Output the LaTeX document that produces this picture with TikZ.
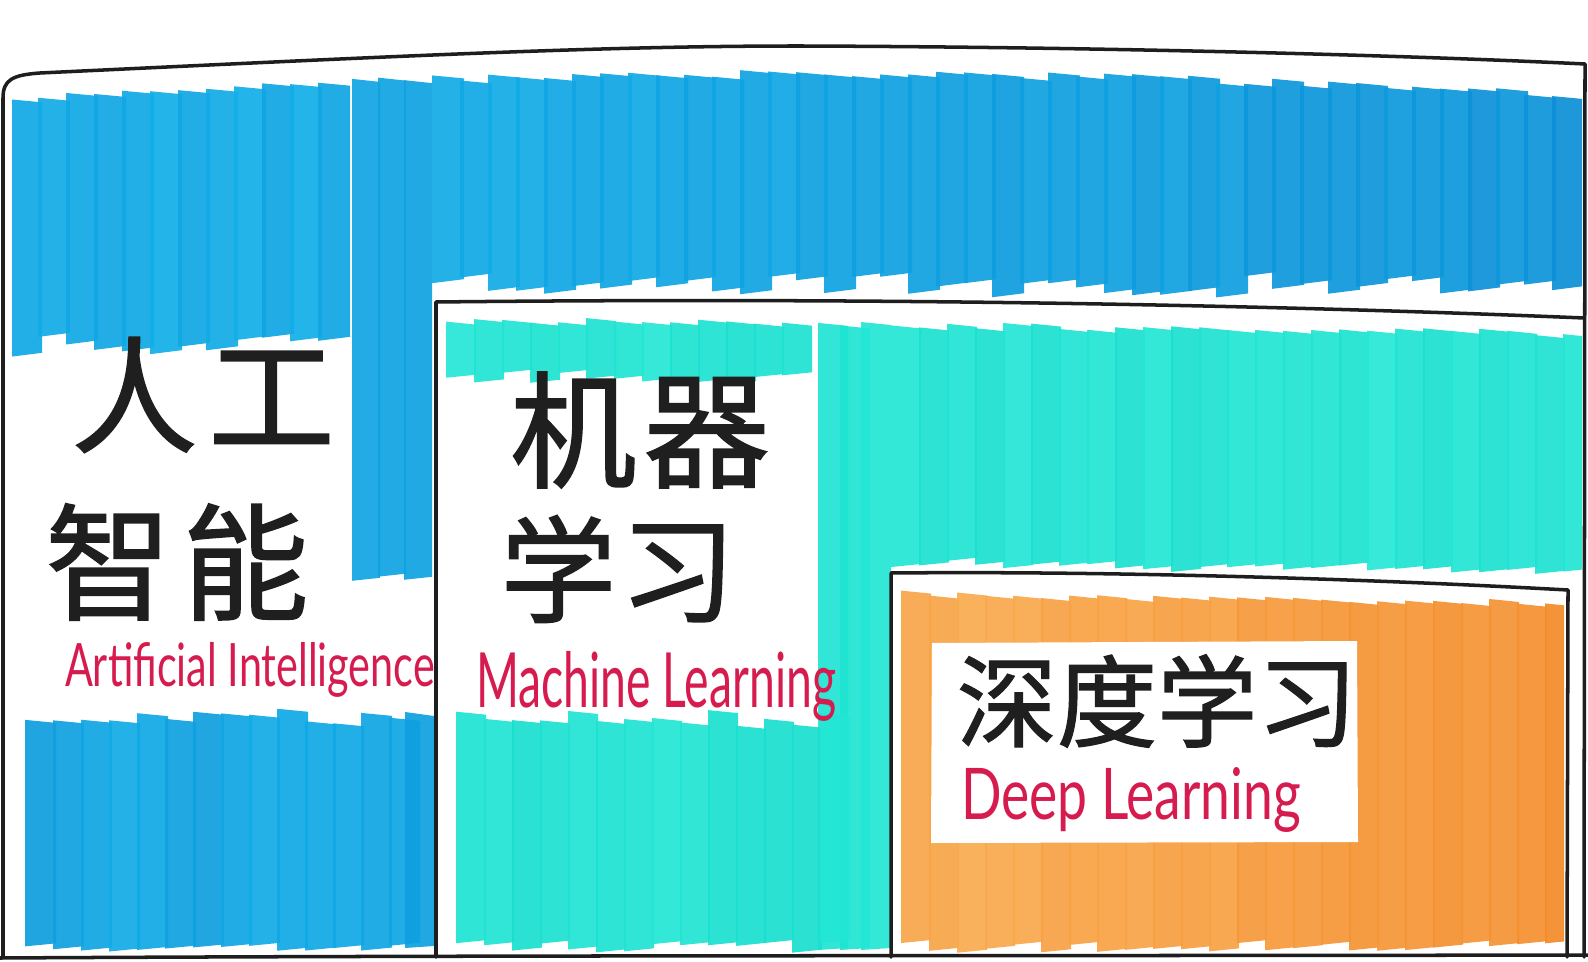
\documentclass[tikz,border=0pt]{standalone}
\usepackage{fontspec}
\setmainfont{Lato}
\newfontfamily\cjk[FakeBold=1.2]{Noto Sans CJK SC}
\newfontfamily\hand{Lato}
\definecolor{aiA}{RGB}{18,178,234}
\definecolor{aiB}{RGB}{10,134,210}
\definecolor{mlA}{RGB}{40,234,216}
\definecolor{mlB}{RGB}{10,212,196}
\definecolor{dlA}{RGB}{250,174,82}
\definecolor{dlB}{RGB}{242,130,32}
\definecolor{pen}{RGB}{30,30,30}
\definecolor{redpen}{RGB}{214,28,78}
\tikzset{
  frame/.style={draw=pen,line width=2pt,line join=round,line cap=round},
  cjktext/.style={inner sep=0pt,text=black!88},
  entext/.style={inner sep=0pt,text=redpen},
  stroke/.style={fill opacity=0.92}
}
\begin{document}
\begin{tikzpicture}[x=0.02cm,y=-0.02cm]
\pgfmathsetseed{11}
\useasboundingbox (0,0) rectangle (1588,962);
\fill[white] (0,0) rectangle (1588,962);

% ---------- blue (AI) marker fill ----------
\begin{scope}
\clip (12,0) rectangle (1582,955);
\foreach \x in {10,38,...,318}{
  \pgfmathsetmacro\t{70+26*((\x-800)/800)^2+6*rnd}
  \pgfmathsetmacro\b{332+22*rnd}
  \pgfmathsetmacro\m{int(70+25*rnd)}
  \fill[stroke,aiA!\m!aiB] (\x,\t) -- (\x+32,\t+3) -- (\x+32,\b) -- (\x,\b+4) -- cycle;
}
\foreach \x in {352,378,404}{
  \pgfmathsetmacro\t{70+26*((\x-800)/800)^2+6*rnd}
  \pgfmathsetmacro\b{572+10*rnd}
  \pgfmathsetmacro\m{int(60+25*rnd)}
  \fill[stroke,aiA!\m!aiB] (\x,\t) -- (\x+28,\t+3) -- (\x+28,\b) -- (\x,\b+3) -- cycle;
}
\foreach \x in {432,460,...,1572}{
  \pgfmathsetmacro\t{70+24*((\x-800)/800)^2+7*rnd}
  \pgfmathsetmacro\b{272+22*rnd}
  \pgfmathsetmacro\m{int(max(5,75-(\x-432)/1140*55+20*rnd))}
  \fill[stroke,aiA!\m!aiB] (\x,\t) -- (\x+32,\t+3) -- (\x+32,\b) -- (\x,\b+4) -- cycle;
}
\foreach \x in {25,53,...,389}{
  \pgfmathsetmacro\t{708+16*rnd}
  \pgfmathsetmacro\b{942+8*rnd}
  \pgfmathsetmacro\m{int(55+30*rnd)}
  \fill[stroke,aiA!\m!aiB] (\x,\t) -- (\x+31,\t+3) -- (\x+31,\b) -- (\x,\b+3) -- cycle;
}
\fill[stroke,aiA!60!aiB] (405,712) -- (434,716) -- (434,946) -- (405,948) -- cycle;
\end{scope}

% ---------- teal (ML) marker fill ----------
\begin{scope}
\clip (440,0) rectangle (1582,955);
\foreach \x in {446,474,...,790}{
  \pgfmathsetmacro\t{316+(\x-436)/1150*14+6*rnd}
  \pgfmathsetmacro\b{368+16*rnd}
  \pgfmathsetmacro\m{int(55+35*rnd)}
  \fill[stroke,mlA!\m!mlB] (\x,\t) -- (\x+30,\t+3) -- (\x+30,\b) -- (\x,\b+3) -- cycle;
}
\foreach \x in {818,840,861}{
  \pgfmathsetmacro\t{316+(\x-436)/1150*14+6*rnd}
  \pgfmathsetmacro\m{int(55+35*rnd)}
  \fill[stroke,mlA!\m!mlB] (\x,\t) -- (\x+30,\t+3) -- (\x+30,948) -- (\x,950) -- cycle;
}
\foreach \x in {891,919,...,1571}{
  \pgfmathsetmacro\t{316+(\x-436)/1150*14+6*rnd}
  \pgfmathsetmacro\b{556+(\x-891)/690*10+10*rnd}
  \pgfmathsetmacro\m{int(55+35*rnd)}
  \fill[stroke,mlA!\m!mlB] (\x,\t) -- (\x+30,\t+3) -- (\x+30,\b) -- (\x,\b+3) -- cycle;
}
\foreach \x in {456,484,...,820}{
  \pgfmathsetmacro\t{710+16*rnd}
  \pgfmathsetmacro\b{940+10*rnd}
  \pgfmathsetmacro\m{int(50+35*rnd)}
  \fill[stroke,mlA!\m!mlB] (\x,\t) -- (\x+30,\t+3) -- (\x+30,\b) -- (\x,\b+3) -- cycle;
}
\end{scope}

% ---------- orange (DL) marker fill ----------
\begin{scope}
\clip (899,0) rectangle (1564,955);
\foreach \x in {901,929,...,1545}{
  \pgfmathsetmacro\t{590+(\x-901)/667*10+6*rnd}
  \pgfmathsetmacro\b{940+10*rnd}
  \pgfmathsetmacro\m{int(max(5,80-(\x-901)/640*60+20*rnd))}
  \fill[stroke,dlA!\m!dlB] (\x,\t) -- (\x+30,\t+3) -- (\x+30,\b) -- (\x,\b+3) -- cycle;
}
\end{scope}
\fill[white] (932,643) -- (1357,641) -- (1358,842) -- (931,843) -- cycle;

% ---------- frames ----------
\draw[frame] (3,957) -- (3,98) .. controls (3,80) and (12,75) .. (40,73)
  .. controls (400,56) and (600,46) .. (800,46)
  .. controls (1100,47) and (1400,55) .. (1585,64) -- (1584,957);
\draw[frame] (0,958) .. controls (500,955) and (1100,956) .. (1588,955);
\draw[frame] (436,957) -- (436,302) .. controls (800,298) and (1200,302) .. (1584,318);
\draw[frame] (891,957) -- (891,573) .. controls (1100,571) and (1350,578) .. (1568,590) -- (1567,957);

% ---------- texts ----------
\node[cjktext,font=\cjk\fontsize{72pt}{72pt}\selectfont] (ai1) at (203,395) {人\hspace{6pt}工};
\node[cjktext,font=\cjk\fontsize{72pt}{72pt}\selectfont] (ai2) at (177,562) {智\hspace{6pt}能};
\node[entext] (aien) at (250,670) {\resizebox*{7.4cm}{1.1cm}{\hand Artificial Intelligence}};

\node[cjktext,font=\cjk\fontsize{72pt}{72pt}\selectfont] (ml1) at (640,430) {机\hspace{4pt}器};
\node[cjktext,font=\cjk\fontsize{66pt}{66pt}\selectfont] (ml2) at (618,569) {学\hspace{2pt}习};
\node[entext] (mlen) at (656,686) {\resizebox*{7.2cm}{1.4cm}{\hand Machine Learning}};

\node[cjktext,font=\cjk\fontsize{57pt}{57pt}\selectfont] (dl1) at (1157,701) {深度学习};
\node[entext] (dlen) at (1131,800) {\resizebox*{6.8cm}{1.3cm}{\hand Deep Learning}};
\end{tikzpicture}
\end{document}
